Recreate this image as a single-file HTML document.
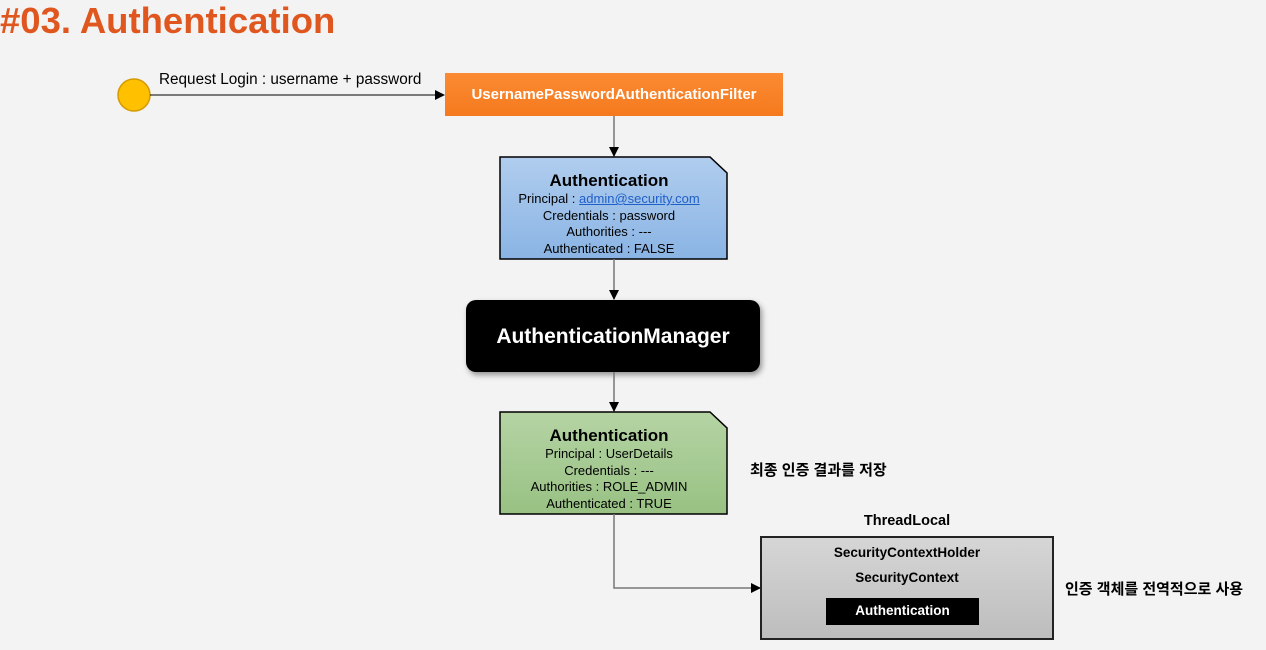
<!DOCTYPE html>
<html><head><meta charset="utf-8"><style>
body{margin:0;width:1266px;height:650px;background:#f3f3f3;position:relative;overflow:hidden;font-family:"Liberation Sans","Noto Sans CJK KR",sans-serif}
.a{position:absolute}
.title{left:0;top:0;font-size:36.5px;font-weight:bold;color:#e0561f;line-height:42px}
.c{text-align:center}
</style></head><body>
<div class="a title">#03. Authentication</div>
<svg class="a" style="left:0;top:0" width="1266" height="650">
<defs><marker id="ar" markerWidth="10" markerHeight="10" refX="9" refY="5" orient="auto" markerUnits="userSpaceOnUse"><path d="M0,0 L10,5 L0,10z" fill="#000"/></marker>
<linearGradient id="bl" x1="0" y1="0" x2="0" y2="1"><stop offset="0" stop-color="#b0cdee"/><stop offset="1" stop-color="#8ab4e4"/></linearGradient>
<linearGradient id="gr" x1="0" y1="0" x2="0" y2="1"><stop offset="0" stop-color="#b5d4a4"/><stop offset="1" stop-color="#98c183"/></linearGradient>
<linearGradient id="gy" x1="0" y1="0" x2="0" y2="1"><stop offset="0" stop-color="#d6d6d6"/><stop offset="1" stop-color="#bdbdbd"/></linearGradient>
<linearGradient id="or" x1="0" y1="0" x2="0" y2="1"><stop offset="0" stop-color="#fb8a32"/><stop offset="1" stop-color="#f57a1e"/></linearGradient>
</defs>
<circle cx="134" cy="95" r="16" fill="#ffc000" stroke="#d49a00" stroke-width="1.5"/>
<line x1="150" y1="95" x2="444" y2="95" stroke="#000" marker-end="url(#ar)"/>
<rect x="445" y="73" width="338" height="43" fill="url(#or)"/>
<line x1="614" y1="116" x2="614" y2="156" stroke="#777" stroke-width="1.5" marker-end="url(#ar)"/>
<path d="M500,157 L710,157 L727,173 L727,259 L500,259z" fill="url(#bl)" stroke="#000" stroke-width="1.5"/>
<line x1="614" y1="259" x2="614" y2="299" stroke="#777" stroke-width="1.5" marker-end="url(#ar)"/>
<rect x="466" y="300" width="294" height="72" rx="10" fill="#000" style="filter:drop-shadow(2px 3px 3px rgba(0,0,0,.4))"/>
<line x1="614" y1="372" x2="614" y2="411" stroke="#777" stroke-width="1.5" marker-end="url(#ar)"/>
<path d="M500,412 L710,412 L727,428 L727,514 L500,514z" fill="url(#gr)" stroke="#000" stroke-width="1.5"/>
<polyline points="614,514 614,588 760,588" fill="none" stroke="#777" stroke-width="1.5" marker-end="url(#ar)"/>
<rect x="761" y="537" width="292" height="102" fill="url(#gy)" stroke="#222" stroke-width="2"/>
<rect x="826" y="598" width="153" height="27" fill="#000"/>
</svg>
<div class="a" style="left:159px;top:71px;font-size:15.3px">Request Login : username + password</div>
<div class="a c" style="left:445px;top:86px;width:338px;color:#fff;font-weight:bold;font-size:15px">UsernamePasswordAuthenticationFilter</div>
<div class="a c" style="left:500px;top:171px;width:218px;font-size:13px;line-height:16.5px"><b style="font-size:17px;line-height:20px">Authentication</b><br>Principal : <span style="color:#1f5fc8;text-decoration:underline">admin@security.com</span><br>Credentials : password<br>Authorities : ---<br>Authenticated : FALSE</div>
<div class="a c" style="left:466px;top:325px;width:294px;color:#fff;font-weight:bold;font-size:21px">AuthenticationManager</div>
<div class="a c" style="left:500px;top:426px;width:218px;font-size:13px;line-height:16.5px"><b style="font-size:17px;line-height:20px">Authentication</b><br>Principal : UserDetails<br>Credentials : ---<br>Authorities : ROLE_ADMIN<br>Authenticated : TRUE</div>
<div class="a" style="left:750px;top:459px;font-size:15px;font-weight:bold">최종 인증 결과를 저장</div>
<div class="a c" style="left:761px;top:513px;width:292px;font-size:14.5px;font-weight:bold">ThreadLocal</div>
<div class="a c" style="left:761px;top:545px;width:292px;font-size:13.5px;font-weight:bold">SecurityContextHolder</div>
<div class="a c" style="left:761px;top:570px;width:292px;font-size:13.5px;font-weight:bold">SecurityContext</div>
<div class="a c" style="left:826px;top:603px;width:153px;font-size:13.5px;font-weight:bold;color:#fff">Authentication</div>
<div class="a" style="left:1065px;top:578px;font-size:15px;font-weight:bold">인증 객체를 전역적으로 사용</div>
</body></html>
